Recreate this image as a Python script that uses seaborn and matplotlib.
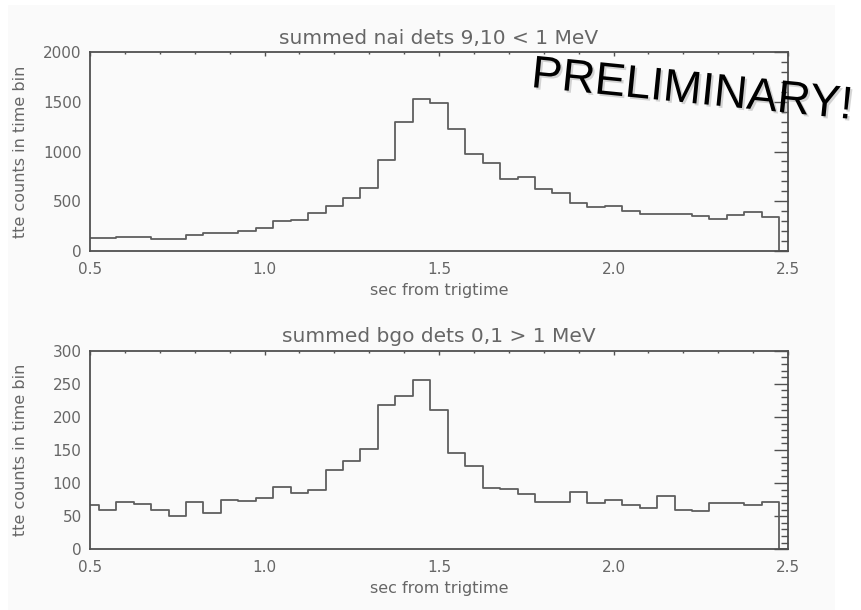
import numpy as np
import pandas as pd
import matplotlib
matplotlib.use("Agg")
import matplotlib.pyplot as plt
import matplotlib.patheffects as pe
from matplotlib.patches import Rectangle
from matplotlib.ticker import MultipleLocator
import seaborn as sns

# ---- data (bin centres in seconds from trigger time) ----
time_sec = [0.50, 0.55, 0.60, 0.65, 0.70, 0.75, 0.80, 0.85, 0.90, 0.95,
            1.00, 1.05, 1.10, 1.15, 1.20, 1.25, 1.30, 1.35, 1.40, 1.45,
            1.50, 1.55, 1.60, 1.65, 1.70, 1.75, 1.80, 1.85, 1.90, 1.95,
            2.00, 2.05, 2.10, 2.15, 2.20, 2.25, 2.30, 2.35, 2.40, 2.45, 2.50]

nai_counts = [130, 130, 145, 145, 125, 125, 160, 180, 180, 206,
              233, 305, 312, 380, 454, 534, 638, 910, 1295, 1523,
              1486, 1231, 970, 884, 720, 747, 623, 583, 479, 439,
              449, 399, 372, 372, 370, 355, 325, 365, 395, 345, 0]

bgo_counts = [67, 60, 71, 69, 60, 51, 71, 55, 74, 73,
              78, 94, 85, 89, 120, 133, 152, 218, 231, 255,
              211, 146, 126, 92, 91, 84, 72, 72, 86, 70,
              75, 67, 62, 80, 60, 58, 70, 70, 67, 72, 0]

titles = ["summed nai dets 9,10 < 1 MeV", "summed bgo dets 0,1 > 1 MeV"]
y_max = [2000, 300]
y_major = [500, 50]
y_minor = [100, 10]
x_label = "sec from trigtime"
y_label = "tte counts in time bin"
x_ticks = [0.5, 1.0, 1.5, 2.0, 2.5]
stamp = "PRELIMINARY!"

# ---- style ----
sns.set_style("white")
plt.rcParams["font.family"] = ["DejaVu Sans"]
txt = "#666666"
line_c = "#5e5e5e"
spine_c = "#505050"
bg = "#fafafa"

fig = plt.figure(figsize=(8.61, 6.10), dpi=100, facecolor="white")
fig.patches.append(Rectangle((8 / 861, 0), 827 / 861, 1 - 5 / 610,
                             transform=fig.transFigure, facecolor=bg,
                             edgecolor="none", zorder=-10))

positions = [[90 / 861, 1 - 251 / 610, 698 / 861, 199 / 610],
             [90 / 861, 1 - 549.3 / 610, 698 / 861, 198.6 / 610]]
series = [nai_counts, bgo_counts]

for i in range(2):
    ax = fig.add_axes(positions[i])
    ax.set_facecolor(bg)
    df = pd.DataFrame({"t": time_sec, "c": series[i]})
    sns.lineplot(data=df, x="t", y="c", ax=ax, drawstyle="steps-mid",
                 color=line_c, linewidth=1.3, estimator=None, sort=False)
    ax.set_xlim(0.5, 2.5)
    ax.set_ylim(0, y_max[i])
    ax.set_xticks(x_ticks)
    ax.set_xticklabels([f"{v:.1f}" for v in x_ticks])
    ax.xaxis.set_minor_locator(MultipleLocator(0.1))
    ax.yaxis.set_major_locator(MultipleLocator(y_major[i]))
    ax.yaxis.set_minor_locator(MultipleLocator(y_minor[i]))
    ax.tick_params(which="both", direction="in", top=True, right=True,
                   colors=spine_c, labelcolor=txt, labelsize=11, width=1.0)
    ax.tick_params(axis="x", which="major", length=3.2, pad=8)
    ax.tick_params(axis="x", which="minor", length=1.6)
    ax.tick_params(axis="y", which="major", length=10, pad=6)
    ax.tick_params(axis="y", which="minor", length=5)
    for s in ax.spines.values():
        s.set_color(spine_c)
        s.set_linewidth(1.3)
    ax.set_title(titles[i], color=txt, fontsize=14.5, pad=6)
    ax.set_xlabel(x_label, color=txt, fontsize=11.5, labelpad=4)
    ax.set_ylabel(y_label, color=txt, fontsize=11.5)
    ax.yaxis.set_label_coords(-0.089, 0.5)

fig.text(692 / 861, 1 - 91 / 610, stamp, family="Liberation Sans",
         fontsize=33, color="black", rotation=-5.7, ha="center", va="center",
         rotation_mode="anchor",
         path_effects=[pe.withSimplePatchShadow(offset=(1.5, -1.5),
                                                shadow_rgbFace="#888888",
                                                alpha=0.35)])

fig.savefig("out.png", dpi=100, facecolor=fig.get_facecolor())
